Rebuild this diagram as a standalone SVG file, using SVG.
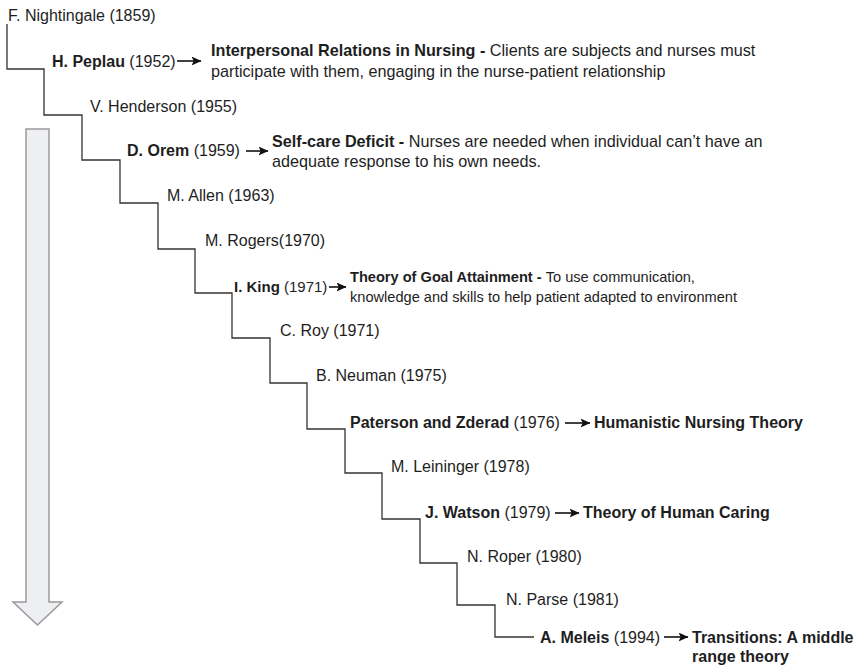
<svg xmlns="http://www.w3.org/2000/svg" width="860" height="669" viewBox="0 0 860 669">
  <defs>
    <style>
      text { font-family: "Liberation Sans", Arial, Helvetica, sans-serif; fill: #1e1e1e; }
      .name { font-size: 16px; }
      .desc { font-size: 16.2px; }
      .mid { font-size: 15px; }
      .small { font-size: 14.6px; }
      .b { font-weight: bold; }
      .stair { fill: none; stroke: #333; stroke-width: 1.3; }
      .link { fill: none; stroke: #111; stroke-width: 1.6; }
      .timeline { fill: #eeeff2; stroke: #9a9a9a; stroke-width: 1.5; }
    </style>
    <marker id="head" viewBox="0 0 10 9" refX="9.5" refY="4.5" markerWidth="10" markerHeight="9" markerUnits="userSpaceOnUse" orient="auto">
      <path d="M0,0 L10,4.5 L0,9 L2.2,4.5 Z" fill="#111"/>
    </marker>
  </defs>

  <rect width="860" height="669" fill="#ffffff"/>

  <!-- downward time arrow -->
  <g id="timeline-arrow">
    <path class="timeline" d="M26,129 L49,129 L49,602 L62,602 L37.5,625 L13,602 L26,602 Z"/>
  </g>

  <!-- staircase and pointers -->
  <g id="connectors">
    <path class="stair" d="M7,24 V69 H44 V115 H82 V160 H120 V203 H158 V249 H195 V293 H232 V338 H270 V383 H307 V429 H345 V473 H382 V519 H420 V563 H457 V605 H495 V637 H534"/>
    <line class="link" x1="177" y1="61" x2="201" y2="61" marker-end="url(#head)"/>
    <line class="link" x1="246" y1="151" x2="268" y2="151" marker-end="url(#head)"/>
    <line class="link" x1="329" y1="287" x2="346" y2="287" marker-end="url(#head)"/>
    <line class="link" x1="565" y1="423" x2="590" y2="423" marker-end="url(#head)"/>
    <line class="link" x1="555" y1="513" x2="579" y2="513" marker-end="url(#head)"/>
    <line class="link" x1="664" y1="637" x2="688" y2="637" marker-end="url(#head)"/>
  </g>

  <g id="nightingale">
    <text class="name" x="8" y="21">F. Nightingale (1859)</text>
  </g>

  <g id="peplau">
    <text class="name" x="52" y="67"><tspan class="b">H. Peplau</tspan> (1952)</text>
    <text class="desc" x="211" y="56"><tspan class="b">Interpersonal Relations in Nursing - </tspan>Clients are subjects and nurses must</text>
    <text class="desc" x="211" y="77">participate with them, engaging in the nurse-patient relationship</text>
  </g>

  <g id="henderson">
    <text class="name" x="90" y="112">V. Henderson (1955)</text>
  </g>

  <g id="orem">
    <text class="name" x="127" y="156"><tspan class="b">D. Orem</tspan> (1959)</text>
    <text class="desc" x="272" y="147"><tspan class="b">Self-care Deficit - </tspan>Nurses are needed when individual can’t have an</text>
    <text class="desc" x="272" y="167">adequate response to his own needs.</text>
  </g>

  <g id="allen">
    <text class="name" x="167" y="201">M. Allen (1963)</text>
  </g>

  <g id="rogers">
    <text class="name" x="205" y="246">M. Rogers(1970)</text>
  </g>

  <g id="king">
    <text class="mid" x="234" y="292"><tspan class="b">I. King</tspan> (1971)</text>
    <text class="small" x="350" y="282"><tspan class="b">Theory of Goal Attainment - </tspan>To use communication,</text>
    <text class="small" x="350" y="302">knowledge and skills to help patient adapted to environment</text>
  </g>

  <g id="roy">
    <text class="name" x="280" y="336">C. Roy (1971)</text>
  </g>

  <g id="neuman">
    <text class="name" x="316" y="381">B. Neuman (1975)</text>
  </g>

  <g id="paterson-zderad">
    <text class="name" x="350" y="428"><tspan class="b">Paterson and Zderad</tspan> (1976)</text>
    <text class="name b" x="594" y="428">Humanistic Nursing Theory</text>
  </g>

  <g id="leininger">
    <text class="name" x="391" y="472">M. Leininger (1978)</text>
  </g>

  <g id="watson">
    <text class="name" x="425" y="518"><tspan class="b">J. Watson</tspan> (1979)</text>
    <text class="name b" x="583" y="518">Theory of Human Caring</text>
  </g>

  <g id="roper">
    <text class="name" x="467" y="562">N. Roper (1980)</text>
  </g>

  <g id="parse">
    <text class="name" x="506" y="605">N. Parse (1981)</text>
  </g>

  <g id="meleis">
    <text class="name" x="540" y="643"><tspan class="b">A. Meleis</tspan> (1994)</text>
    <text class="name b" x="692" y="643">Transitions: A middle</text>
    <text class="name b" x="692" y="662">range theory</text>
  </g>
</svg>
